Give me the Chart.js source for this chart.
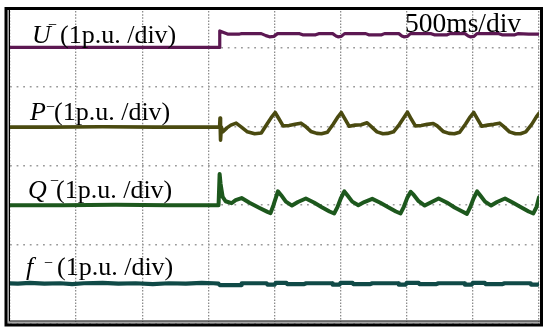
<!DOCTYPE html>
<html>
<head>
<meta charset="utf-8">
<script src="https://cdn.jsdelivr.net/npm/chart.js@4/dist/chart.umd.min.js"></script>
<style>
  html,body{margin:0;padding:0;background:#fff;}
  canvas{display:block;}
</style>
</head>
<body>
<canvas id="scope" width="550" height="336"></canvas>
<script>
// ── trace data: time in ms (500 ms/div), level in divisions (0 = bottom, 8 = top)
const uTime  = [0,1577,1584,1586,1615,1645,1736,1751,1900,1935,1962,1995,2023,2190,2213,2311,2334,2440,2465,2480,2505,2530,2690,2712,2810,2832,2940,2963,2978,3005,3028,3185,3208,3306,3328,3440,3465,3480,3508,3531,3697,3720,3817,3840,3923,4000];
const uLevel = [7.00,7.00,7.00,7.42,7.38,7.34,7.34,7.35,7.35,7.30,7.27,7.28,7.35,7.35,7.32,7.32,7.35,7.35,7.29,7.27,7.28,7.35,7.35,7.32,7.32,7.35,7.35,7.29,7.27,7.28,7.35,7.35,7.32,7.32,7.35,7.35,7.29,7.27,7.28,7.35,7.35,7.32,7.32,7.35,7.34,7.34];

const pTime  = [0,300,700,1100,1570,1585,1588,1592,1598,1610,1640,1670,1710,1750,1795,1850,1900,1940,1975,2005,
                2030,2065,2110,2155,2200,2230,2275,2320,2355,2400,2445,2480,2505,
                2530,2565,2610,2655,2700,2730,2775,2820,2855,2900,2945,2980,3005,
                3030,3065,3110,3155,3200,3230,3275,3320,3360,3400,3445,3480,3507,
                3532,3567,3612,3657,3702,3732,3777,3822,3860,3900,3945,3980,4000];
const pLevel = [4.98,4.98,4.99,4.98,4.98,4.98,5.21,4.65,4.98,4.86,4.96,5.03,5.08,4.98,4.86,4.81,4.83,5.04,5.22,5.35,
                5.21,5.01,5.02,5.05,5.08,5.01,4.87,4.82,4.81,4.85,5.06,5.24,5.35,
                5.20,5.00,5.03,5.04,5.09,5.00,4.86,4.81,4.82,4.86,5.05,5.23,5.36,
                5.21,5.01,5.02,5.05,5.07,5.01,4.87,4.82,4.81,4.85,5.06,5.24,5.35,
                5.20,5.00,5.03,5.05,5.08,5.00,4.86,4.81,4.81,4.86,5.05,5.24,5.33];

const qTime  = [0,400,800,1200,1577,1585,1592,1600,1608,1630,1675,1706,1751,1811,1887,1947,1970,1992,2026,
                2049,2086,2132,2177,2237,2298,2358,2416,2451,2476,2501,2528,
                2551,2588,2634,2679,2739,2800,2860,2918,2953,2978,3003,3030,
                3053,3090,3136,3181,3241,3302,3362,3420,3455,3480,3505,3532,
                3555,3592,3638,3683,3743,3804,3864,3922,3957,3982,4000];
const qLevel = [3.00,3.00,3.01,3.00,3.00,3.79,3.55,3.38,3.21,3.10,3.05,3.13,3.18,3.06,2.93,2.83,2.80,3.00,3.35,
                3.26,3.09,2.99,3.08,3.17,3.07,2.95,2.84,2.79,2.95,3.17,3.35,
                3.25,3.09,3.00,3.08,3.16,3.06,2.95,2.84,2.79,2.96,3.18,3.34,
                3.26,3.10,2.99,3.07,3.17,3.07,2.94,2.84,2.78,2.95,3.17,3.35,
                3.25,3.09,2.99,3.08,3.17,3.06,2.95,2.84,2.79,2.96,3.20];

const fTime  = [0,60,150,260,380,470,560,700,820,950,1080,1200,1330,1450,1540,1577,1585,1750,1752,1940,1947,2000,2010,2090,2095,2225,2240,2438,2440,2490,
                2500,2590,2595,2725,2740,2938,2940,2990,3000,3090,3095,3225,3240,3438,3440,3490,3500,3590,3595,3725,3740,3938,3940,3990,4000];
const fLevel = [1.02,1.01,1.03,1.01,1.02,1.00,1.02,1.03,1.01,1.02,1.00,1.02,1.01,1.03,1.02,1.01,0.975,0.975,1.02,1.02,0.985,0.985,1.03,1.03,1.0,1.0,1.02,1.02,0.985,0.985,
                1.03,1.03,1.0,1.0,1.02,1.02,0.985,0.985,1.03,1.03,1.0,1.0,1.02,1.02,0.985,0.985,1.03,1.03,1.0,1.0,1.02,1.02,0.985,0.985,1.0];

const traceNames  = ['U','P','Q','f'];
const traceColors = ['#5c1852','#4a4a10','#1d581d','#104a47'];
const timeBase    = '500ms/div';

const pts = (t, v) => t.map((x, i) => ({x, y: v[i]}));

// labels (drawn on top of the traces)
const labelPos = [
  {x:32, y:43,  minusX:48, minusY:30,  parenX:60},
  {x:30, y:120, minusX:46, minusY:112, parenX:54},
  {x:28, y:198, minusX:50, minusY:186, parenX:56},
  {x:26, y:275, minusX:44, minusY:268, parenX:57}
];

const scopeDecor = {
  id:'scopeDecor',
  beforeDraw(c){
    const ctx=c.ctx;
    ctx.save(); ctx.fillStyle='#fff'; ctx.fillRect(0,0,c.width,c.height); ctx.restore();
  },
  afterDatasetsDraw(c){
    const ctx=c.ctx;
    ctx.save();
    ctx.fillStyle='#000';
    ctx.textBaseline='alphabetic';
    traceNames.forEach((n,i)=>{
      const p=labelPos[i];
      ctx.font='italic 26px "Liberation Serif"';
      ctx.fillText(n,p.x,p.y);
      ctx.font='16px "Liberation Serif"';
      ctx.fillText('\u2212',p.minusX,p.minusY);
      ctx.font='26px "Liberation Serif"';
      ctx.fillText('(1p.u. /div)',p.parenX,p.y);
    });
    ctx.font='27.5px "Liberation Serif"';
    ctx.fillText(timeBase,405,31.5);
    ctx.restore();
  },
  afterDraw(c){
    const ctx=c.ctx;
    ctx.save();
    // grey inner band + thin inner line, then heavy outer frame
    ctx.fillStyle='#a8a8a8';
    ctx.fillRect(7.5,8,1.5,317);
    ctx.fillRect(7.5,321.5,533,2);
    ctx.strokeStyle='#000';
    ctx.lineWidth=1;
    ctx.beginPath();
    ctx.moveTo(9.5,9); ctx.lineTo(9.5,321); ctx.lineTo(540,321);
    ctx.stroke();
    ctx.lineWidth=3;
    ctx.strokeRect(6,8.5,535.5,316.5);
    ctx.restore();
  }
};

new Chart(document.getElementById('scope'),{
  type:'line',
  data:{
    datasets: traceNames.map((n,i)=>({
      label:n,
      data: pts([uTime,pTime,qTime,fTime][i],[uLevel,pLevel,qLevel,fLevel][i]),
      borderColor:traceColors[i],
      borderWidth:[3.2,3.6,4,4.2][i],
      borderJoinStyle:'round',
      borderCapStyle:'round',
      pointRadius:0,
      tension:0
    }))
  },
  options:{
    responsive:false,
    animation:false,
    devicePixelRatio:1,
    layout:{padding:{left:10,right:11,top:8,bottom:12.5}},
    plugins:{legend:{display:false},tooltip:{enabled:false}},
    scales:{
      x:{type:'linear',min:0,max:4000,
         ticks:{display:false,stepSize:500},
         grid:{color:'#8c8c8c',lineWidth:1.3,drawTicks:false},
         border:{display:false,dash:[1.5,1.6]}},
      y:{type:'linear',min:0,max:8,
         ticks:{display:false,stepSize:1},
         grid:{color:'#9a9a9a',lineWidth:1.6,drawTicks:false},
         border:{display:false,dash:[1.8,4.8]}}
    }
  },
  plugins:[scopeDecor]
});
</script>
</body>
</html>
